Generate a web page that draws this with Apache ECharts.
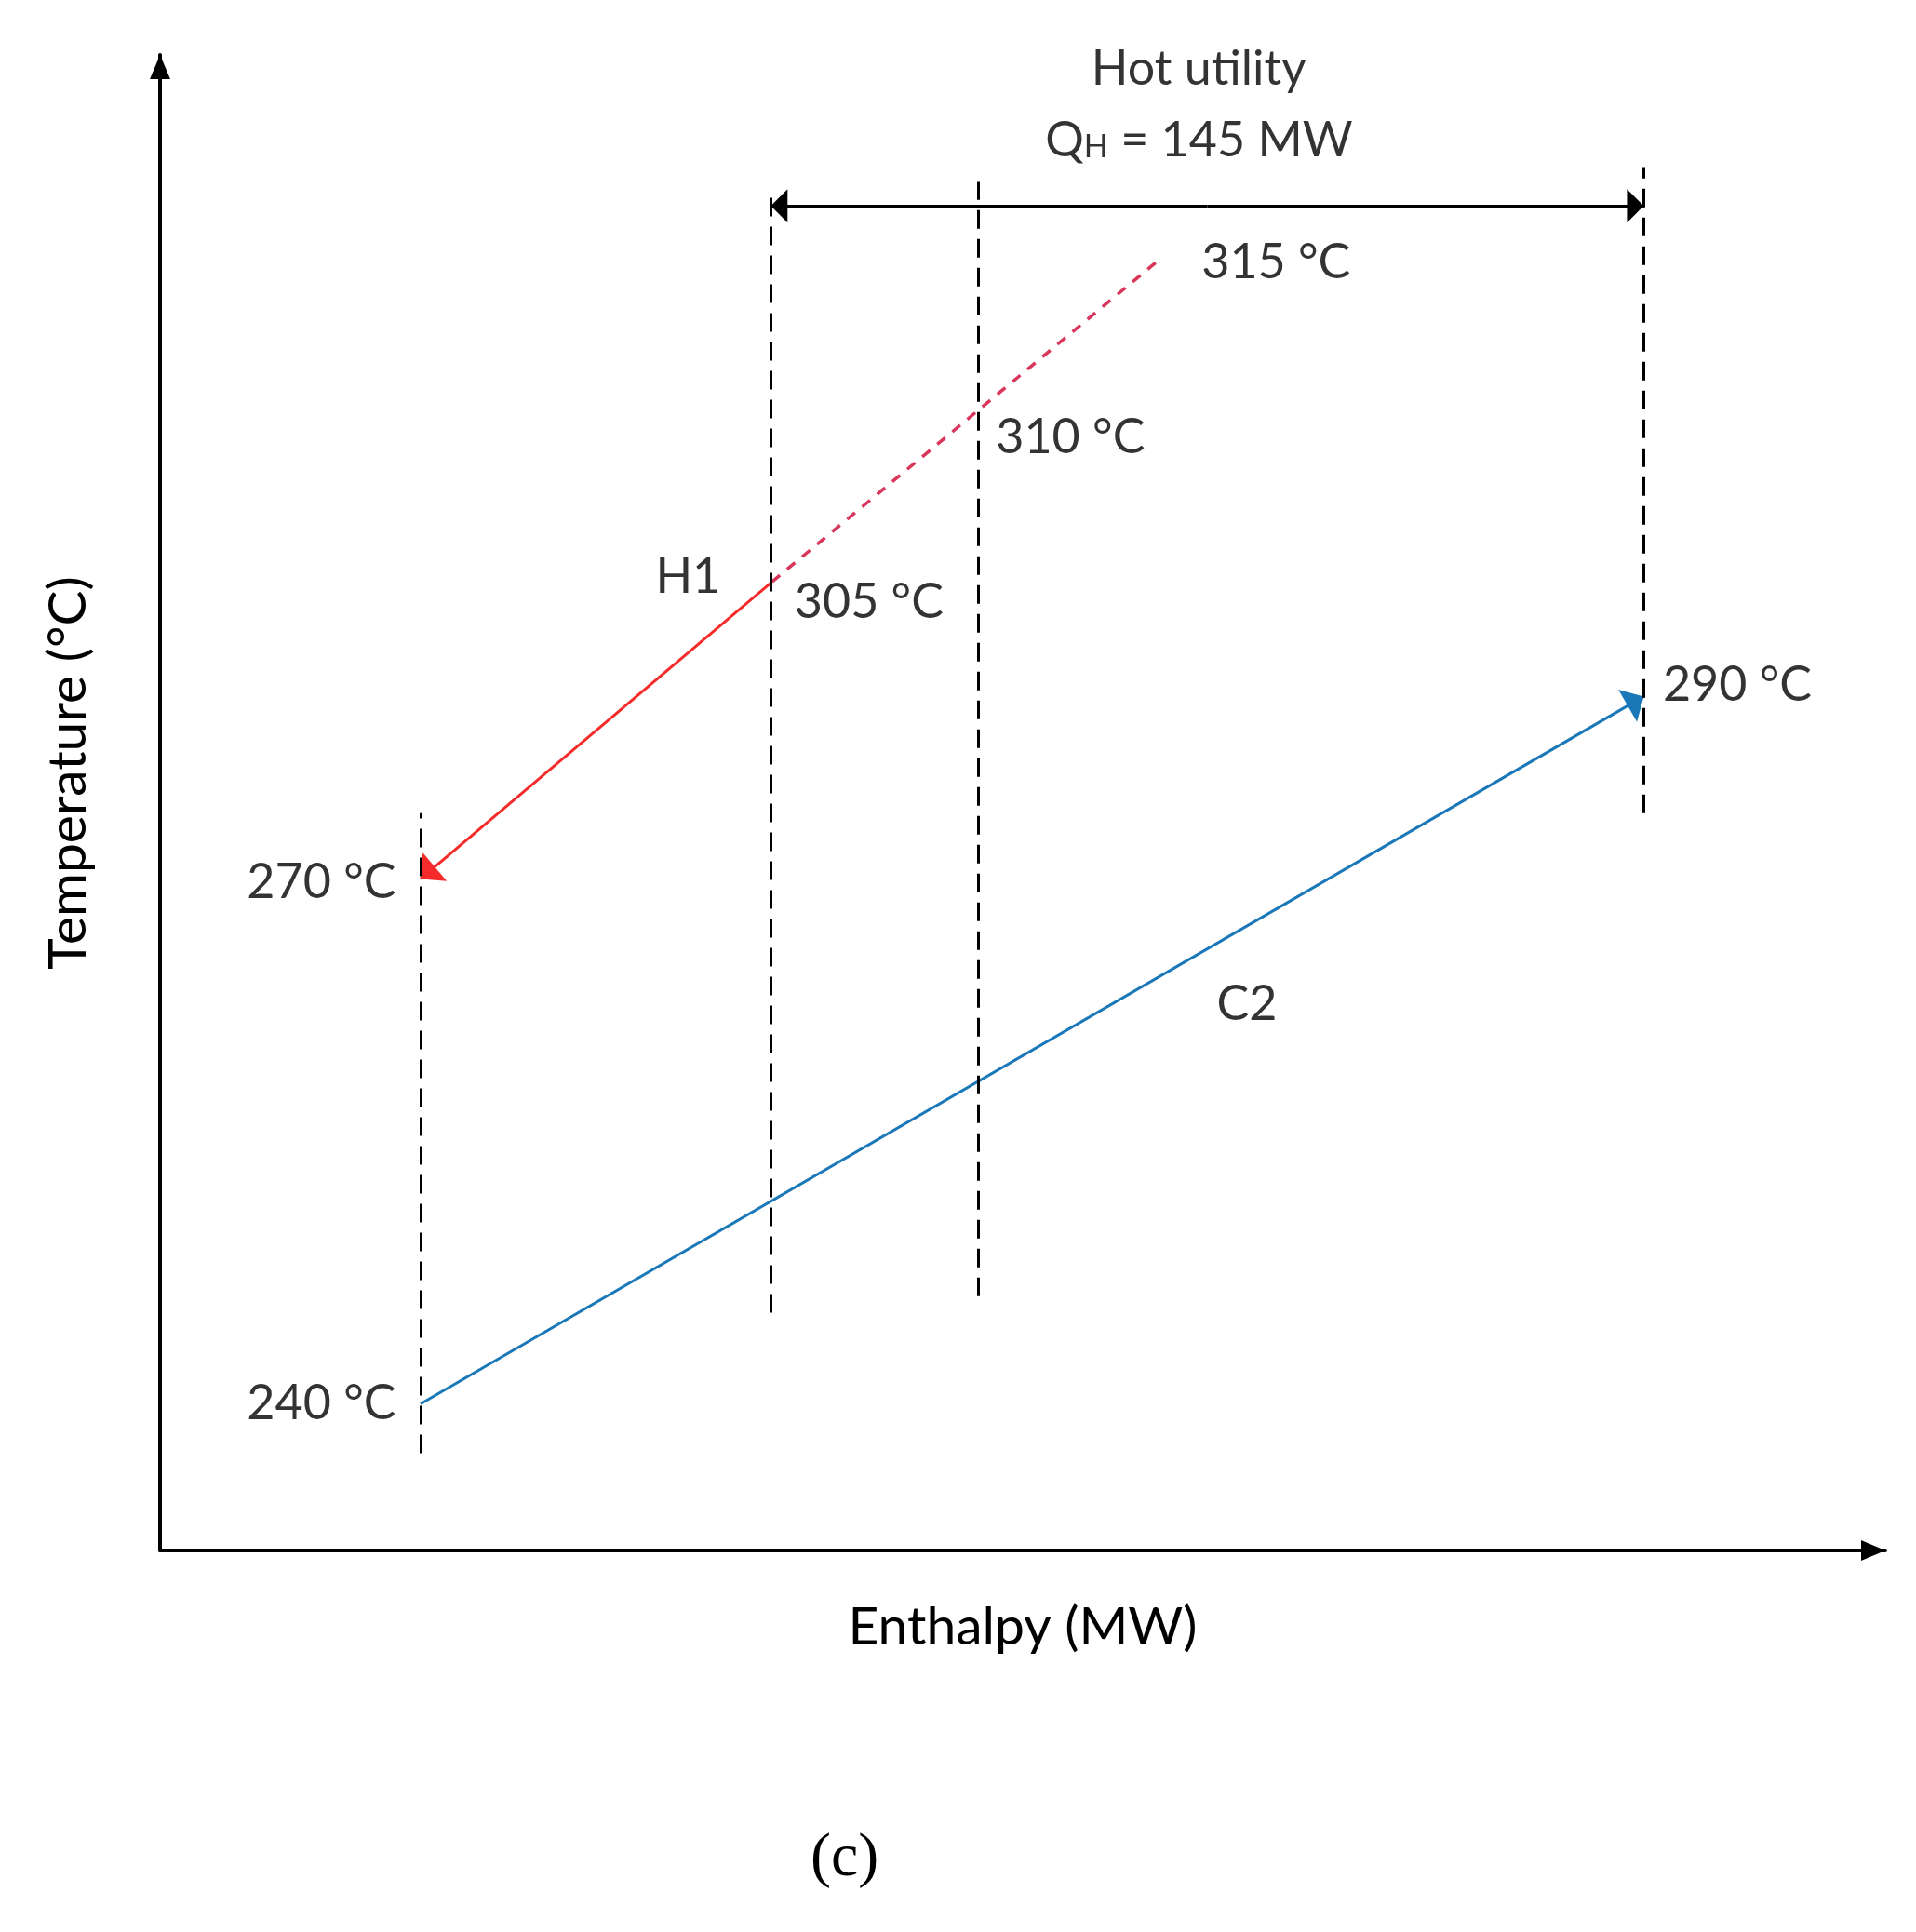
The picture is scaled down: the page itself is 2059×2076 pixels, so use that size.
<!DOCTYPE html>
<html>
<head>
<meta charset="utf-8">
<script src="https://cdn.jsdelivr.net/npm/echarts@6/dist/echarts.min.js"></script>
<style>
html,body{margin:0;padding:0;background:#fff;}
#chart{width:2059px;height:2076px;}
</style>
</head>
<body>
<div id="chart"></div>
<script>
// ---- data (schematic units: enthalpy 0-100, temperature level 0-100) ----
const h1Enthalpy = [57.7, 35.4, 15.1];      // hot stream H1: supply -> pinch -> target
const h1Level    = [86.1, 64.7, 44.9];
const h1MidEnthalpy = 47.4;                 // 310 °C point on dashed part
const h1MidLevel    = 76.2;
const c2Enthalpy = [15.1, 86.0];            // cold stream C2: supply -> target
const c2Level    = [9.8, 57.1];
const guideX     = [15.1, 35.4, 47.4, 86.0]; // vertical dashed guides
const guideLow   = [6.5, 15.9, 17.0, 49.3];
const guideHigh  = [49.3, 90.5, 91.5, 92.5];
const utilityX   = [35.4, 86.0];            // hot utility span
const utilityLevel = 89.9;
const tempLabels = ['315 °C', '310 °C', '305 °C', '270 °C', '240 °C', '290 °C'];
const streamNames = ['H1', 'C2'];
const streamNameX = [30.6, 63.0];
const streamNameY = [65.1, 36.5];
const utilityTitle = 'Hot utility';
const utilityDuty = 145; // MW
const xName = 'Enthalpy (MW)';
const yName = 'Temperature (°C)';
const caption = '(c)';

const FONT = 'Lato';
const FS = 52;
// filled triangle whose tip sits at the symbol centre (so it ends exactly at the line end)
const TIP = 'path://M0,0L6,12L-6,12ZM0,-12L0.01,-12.01L-0.01,-12.01Z';
const chart = echarts.init(document.getElementById('chart'));

// label anchor points
const tempAnchors = [
  [h1Enthalpy[0], h1Level[0]],
  [h1MidEnthalpy, h1MidLevel],
  [h1Enthalpy[1], h1Level[1]],
  [h1Enthalpy[2], h1Level[2]],
  [c2Enthalpy[0], c2Level[0]],
  [c2Enthalpy[1], c2Level[1]]
];
const tempLabelStyle = [
  {position: 'right', offset: [49, 0]},
  {position: 'right', offset: [19, 29]},
  {position: 'right', offset: [25, 21]},
  {position: 'left', offset: [-26, 4]},
  {position: 'left', offset: [-26, 0]},
  {position: 'right', offset: [20, -12]}
];

const annot = [];
tempLabels.forEach((t, i) => {
  annot.push({
    value: tempAnchors[i], name: t,
    label: {show: true, distance: 0, position: tempLabelStyle[i].position, offset: tempLabelStyle[i].offset}
  });
});
streamNames.forEach((n, i) => {
  annot.push({value: [streamNameX[i], streamNameY[i]], name: n,
    label: {show: true, position: 'inside', offset: [0, 0]}});
});
const utilMid = (utilityX[0] + utilityX[1]) / 2;
annot.push({value: [utilMid, utilityLevel], name: utilityTitle,
  label: {show: true, position: 'inside', offset: [-9, -147]}});
annot.push({value: [utilMid, utilityLevel], name: 'Q{h|H}{r| = ' + utilityDuty + ' MW}',
  label: {show: true, position: 'inside', offset: [-9, -70]}});

const guideLines = guideX.map((x, i) => ({coords: [[x, guideLow[i]], [x, guideHigh[i]]]}));
// double-headed utility arrow drawn as two halves pointing outward from the middle
const utilityHalves = utilityX.map(x => ({coords: [[utilMid, utilityLevel], [x, utilityLevel]]}));

const option = {
  backgroundColor: '#fff',
  animation: false,
  textStyle: {fontFamily: FONT},
  title: {
    text: caption, left: 866, top: 1960,
    textStyle: {fontFamily: 'Liberation Serif', fontSize: 66, fontWeight: 'normal', color: '#000'}
  },
  grid: {left: 172, right: 33, top: 59, bottom: 410, containLabel: false},
  xAxis: {
    type: 'value', min: 0, max: 100,
    name: xName, nameLocation: 'middle', nameGap: 54,
    nameTextStyle: {fontFamily: FONT, fontSize: 57, color: '#000'},
    axisLine: {show: true, symbol: ['none', 'triangle'], symbolSize: [22, 26], symbolOffset: [0, -13],
      lineStyle: {color: '#000', width: 4}},
    axisTick: {show: false}, axisLabel: {show: false}, splitLine: {show: false}
  },
  yAxis: {
    type: 'value', min: 0, max: 100,
    name: yName, nameLocation: 'middle', nameGap: 70,
    nameTextStyle: {fontFamily: FONT, fontSize: 57, color: '#000', padding: [0, 0, 0, 64]},
    axisLine: {show: true, symbol: ['none', 'triangle'], symbolSize: [22, 26], symbolOffset: [0, -13],
      lineStyle: {color: '#000', width: 4}},
    axisTick: {show: false}, axisLabel: {show: false}, splitLine: {show: false}
  },
  series: [
    {
      type: 'lines', coordinateSystem: 'cartesian2d', z: 3,
      symbol: ['none', 'none'],
      lineStyle: {color: '#000', width: 3, type: [20, 11], opacity: 1},
      data: guideLines
    },
    {
      type: 'lines', coordinateSystem: 'cartesian2d', z: 2,
      symbol: ['none', 'none'],
      lineStyle: {color: '#d8365a', width: 3.5, type: [11, 10], opacity: 1},
      data: [{coords: [[h1Enthalpy[0], h1Level[0]], [h1Enthalpy[1], h1Level[1]]]}]
    },
    {
      type: 'lines', coordinateSystem: 'cartesian2d', z: 2,
      symbol: ['none', TIP], symbolSize: [18, 40],
      lineStyle: {color: '#f52a2a', width: 3, opacity: 1},
      data: [{coords: [[h1Enthalpy[1], h1Level[1]], [h1Enthalpy[2], h1Level[2]]]}]
    },
    {
      type: 'lines', coordinateSystem: 'cartesian2d', z: 2,
      symbol: ['none', TIP], symbolSize: [18, 40],
      lineStyle: {color: '#1b78b8', width: 3, opacity: 1},
      data: [{coords: [[c2Enthalpy[0], c2Level[0]], [c2Enthalpy[1], c2Level[1]]]}]
    },
    {
      type: 'lines', coordinateSystem: 'cartesian2d', z: 4,
      symbol: ['none', TIP], symbolSize: [16, 36],
      lineStyle: {color: '#000', width: 4, opacity: 1},
      data: utilityHalves
    },
    {
      type: 'scatter', z: 5, symbolSize: 1,
      itemStyle: {color: 'rgba(0,0,0,0)'},
      label: {
        show: true, formatter: p => p.name,
        fontFamily: FONT, fontSize: FS, color: '#000',
        rich: {
          h: {fontFamily: FONT, fontSize: 34, color: '#000', padding: [14, 0, 0, 0]},
          r: {fontFamily: FONT, fontSize: FS, color: '#000'}
        }
      },
      data: annot
    }
  ]
};
chart.setOption(option);
</script>
</body>
</html>
